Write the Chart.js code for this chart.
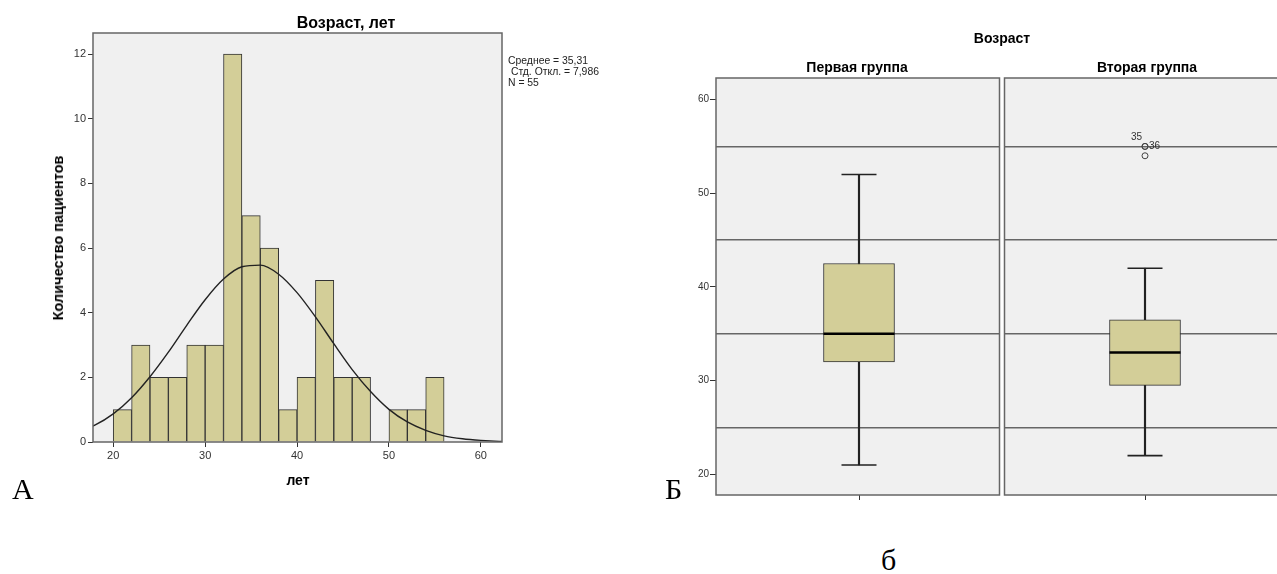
<!DOCTYPE html>
<html>
<head>
<meta charset="utf-8">
<script src="https://cdn.jsdelivr.net/npm/chart.js@4.4.1/dist/chart.umd.min.js"></script>
<style>
  body { margin: 0; width: 1277px; height: 574px; overflow: hidden; background: #fff; position: relative;
         font-family: "Liberation Sans", Arial, sans-serif; }
  canvas { position: absolute; }
  .t { position: absolute; white-space: nowrap; color: #000; transform: translate(-50%, -50%); }
  .b { font-weight: bold; }
  .serif { position: absolute; font-family: "Liberation Serif", "Times New Roman", serif; font-size: 30px; line-height: 30px; }
  .stats { position: absolute; left: 508px; top: 55px; font-size: 10.4px; line-height: 11px; color: #222; white-space: pre; }
</style>
</head>
<body>
<canvas id="hist" width="520" height="500" style="left:0;top:0"></canvas>
<canvas id="box" width="650" height="510" style="left:640px;top:0"></canvas>

<div class="t b" style="left:346px;top:23px;font-size:16px">Возраст, лет</div>
<div class="t b" style="left:58px;top:238px;font-size:14.5px;transform:translate(-50%,-50%) rotate(-90deg)">Количество пациентов</div>
<div class="t b" style="left:298px;top:480px;font-size:14px">лет</div>
<div class="stats">Среднее = 35,31
 Стд. Откл. = 7,986
N = 55</div>

<div class="t b" style="left:1002px;top:38px;font-size:14px">Возраст</div>
<div class="t b" style="left:857px;top:67px;font-size:14px">Первая группа</div>
<div class="t b" style="left:1147px;top:67px;font-size:14px">Вторая группа</div>

<div class="serif" style="left:12px;top:474px">А</div>
<div class="serif" style="left:665px;top:474px">Б</div>
<div class="serif" style="left:881px;top:545px">б</div>

<script>
// histogram: age bins of 2 years
const binStart = [20, 22, 24, 26, 28, 30, 32, 34, 36, 38, 40, 42, 44, 46, 48, 50, 52, 54];
const binCount = [1, 3, 2, 2, 3, 3, 12, 7, 6, 1, 2, 5, 2, 2, 0, 1, 1, 2];
const binWidth = 2;

// normal curve
const curveAge = [16, 18, 20, 22, 24, 26, 28, 30, 32, 34, 36, 38, 40, 42, 44, 46, 48, 50, 52, 54, 56, 58, 60, 62, 64];
const curveCount = [0.30, 0.52, 0.87, 1.37, 2.02, 2.78, 3.61, 4.40, 5.04, 5.42, 5.47, 5.19, 4.62,
                    3.87, 3.04, 2.24, 1.56, 1.01, 0.62, 0.36, 0.19, 0.10, 0.05, 0.02, 0.01];

const histXTicks = [20, 30, 40, 50, 60];
const histYTicks = [0, 2, 4, 6, 8, 10, 12];

// box plot
const groups = ["Первая группа", "Вторая группа"];
const whiskerLow = [21, 22];
const q1 = [32, 29.5];
const median = [35, 33];
const q3 = [42.5, 36.5];
const whiskerHigh = [52, 42];
const outlierGroup = ["Вторая группа", "Вторая группа", "Вторая группа"];
const outlierAge = [55, 55, 54];
const outlierCase = ["35", "36", ""];

const ageTicks = [20, 30, 40, 50, 60];
const ageGrid = [25, 35, 45, 55];

const tan = "rgb(211, 206, 152)";
Chart.defaults.font.family = '"Liberation Sans", Arial, sans-serif';
Chart.defaults.animation = false;

const setTicks = (list) => (scale) => { scale.ticks = list.map((v) => ({ value: v })); };

const histFrame = {
  id: "histFrame",
  beforeDraw(chart) {
    const { ctx, chartArea: a } = chart;
    ctx.save();
    ctx.fillStyle = "#f0f0f0";
    ctx.fillRect(a.left, a.top, a.width, a.height);
    ctx.restore();
  },
  afterDraw(chart) {
    const { ctx, chartArea: a } = chart;
    ctx.save();
    ctx.strokeStyle = "#666";
    ctx.lineWidth = 1.5;
    ctx.strokeRect(a.left, a.top, a.width, a.height);
    ctx.restore();
  },
};

new Chart(document.getElementById("hist"), {
  type: "bar",
  data: {
    datasets: [
      {
        type: "line",
        data: curveAge.map((x, i) => ({ x: x, y: curveCount[i] })),
        borderColor: "#222",
        borderWidth: 1.4,
        pointRadius: 0,
        cubicInterpolationMode: "monotone",
        fill: false,
        order: 0,
      },
      {
        data: binStart.map((x, i) => ({ x: x + binWidth / 2, y: binCount[i] })),
        backgroundColor: tan,
        borderColor: "#333",
        borderWidth: 1,
        barPercentage: 1,
        categoryPercentage: 1,
        order: 1,
      },
    ],
  },
  options: {
    responsive: false,
    events: [],
    layout: { autoPadding: false, padding: { top: 33, right: 18, left: 0, bottom: 0 } },
    plugins: { legend: { display: false }, tooltip: { enabled: false } },
    scales: {
      x: {
        type: "linear",
        min: 17.8,
        max: 62.3,
        offset: false,
        afterBuildTicks: setTicks(histXTicks),
        afterFit: (s) => { s.height = 58; },
        grid: { offset: false, drawOnChartArea: false, tickLength: 5, color: "#333" },
        border: { display: false },
        ticks: { padding: 2, font: { size: 11 }, color: "#333", maxRotation: 0 },
      },
      y: {
        min: 0,
        max: 12.65,
        afterBuildTicks: setTicks(histYTicks),
        afterFit: (s) => { s.width = 93; },
        grid: { drawOnChartArea: false, tickLength: 5, color: "#333" },
        border: { display: false },
        ticks: { padding: 2, font: { size: 11 }, color: "#333" },
      },
    },
  },
  plugins: [histFrame],
});

const boxPanels = {
  id: "boxPanels",
  rects(chart) {
    const a = chart.chartArea;
    const x = chart.scales.x;
    const mid = (x.getPixelForValue(0) + x.getPixelForValue(1)) / 2;
    return [[a.left, mid - 2.5], [mid + 2.5, a.right]];
  },
  beforeDraw(chart) {
    const { ctx, chartArea: a } = chart;
    ctx.save();
    ctx.fillStyle = "#f0f0f0";
    this.rects(chart).forEach(([l, r]) => ctx.fillRect(l, a.top, r - l, a.height));
    ctx.restore();
  },
  beforeDatasetsDraw(chart) {
    const { ctx, chartArea: a } = chart;
    const rs = this.rects(chart);
    ctx.save();
    ctx.fillStyle = "#fff";
    ctx.fillRect(rs[0][1], a.top - 1, rs[1][0] - rs[0][1], a.height + 2);
    ctx.strokeStyle = "#666";
    ctx.lineWidth = 1.5;
    rs.forEach(([l, r]) => ctx.strokeRect(l, a.top, r - l, a.height));
    ctx.restore();
  },
  afterDatasetsDraw(chart) {
    const meta = chart.getDatasetMeta(4);
    const ctx = chart.ctx;
    ctx.save();
    ctx.font = '10px "Liberation Sans", Arial, sans-serif';
    ctx.fillStyle = "#333";
    ctx.textBaseline = "middle";
    meta.data.forEach((pt, i) => {
      const label = outlierCase[i];
      if (!label) return;
      if (i === 0) {
        ctx.textAlign = "center";
        ctx.fillText(label, pt.x - 8.5, pt.y - 9.5);
      } else {
        ctx.textAlign = "left";
        ctx.fillText(label, pt.x + 4, pt.y);
      }
    });
    ctx.restore();
  },
};

new Chart(document.getElementById("box"), {
  type: "bar",
  data: {
    labels: groups,
    datasets: [
      {
        data: groups.map((g, i) => [whiskerLow[i], whiskerHigh[i]]),
        backgroundColor: "#222",
        borderWidth: 0,
        barThickness: 1.5,
        grouped: false,
        order: 4,
      },
      {
        data: groups.map((g, i) => [q1[i], q3[i]]),
        backgroundColor: tan,
        borderColor: "#333",
        borderWidth: 1,
        borderSkipped: false,
        barThickness: 71,
        grouped: false,
        order: 3,
      },
      {
        type: "line",
        showLine: false,
        data: groups.map((g, i) => ({ x: g, y: whiskerLow[i] }))
          .concat(groups.map((g, i) => ({ x: g, y: whiskerHigh[i] }))),
        pointStyle: "line",
        pointRadius: 17.5,
        pointBorderWidth: 1.6,
        pointBorderColor: "#222",
        order: 2,
      },
      {
        type: "line",
        showLine: false,
        data: groups.map((g, i) => ({ x: g, y: median[i] })),
        pointStyle: "line",
        pointRadius: 35.5,
        pointBorderWidth: 2.5,
        pointBorderColor: "#000",
        order: 1,
      },
      {
        type: "line",
        showLine: false,
        data: outlierGroup.map((g, i) => ({ x: g, y: outlierAge[i] })),
        pointStyle: "circle",
        pointRadius: 3,
        pointBackgroundColor: "rgba(0,0,0,0)",
        pointBorderColor: "#444",
        pointBorderWidth: 1,
        order: 0,
      },
    ],
  },
  options: {
    responsive: false,
    events: [],
    layout: { autoPadding: false, padding: { top: 78, right: 2, left: 0, bottom: 0 } },
    plugins: { legend: { display: false }, tooltip: { enabled: false } },
    scales: {
      x: {
        type: "category",
        offset: true,
        afterFit: (s) => { s.height = 15; },
        grid: { offset: false, drawOnChartArea: false, tickLength: 5, color: "#333" },
        border: { display: false },
        ticks: { display: false },
      },
      y: {
        min: 17.8,
        max: 62.3,
        afterBuildTicks: setTicks(ageTicks),
        afterFit: (s) => { s.width = 76; },
        grid: { drawOnChartArea: false, tickLength: 6, color: "#333" },
        border: { display: false },
        ticks: { padding: 1, font: { size: 10 }, color: "#333" },
      },
      y2: {
        position: "left",
        min: 17.8,
        max: 62.3,
        afterBuildTicks: setTicks(ageGrid),
        afterFit: (s) => { s.width = 0; },
        grid: { drawTicks: false, color: "#666", lineWidth: 1.5 },
        border: { display: false },
        ticks: { display: false },
      },
    },
  },
  plugins: [boxPanels],
});
</script>
</body>
</html>
